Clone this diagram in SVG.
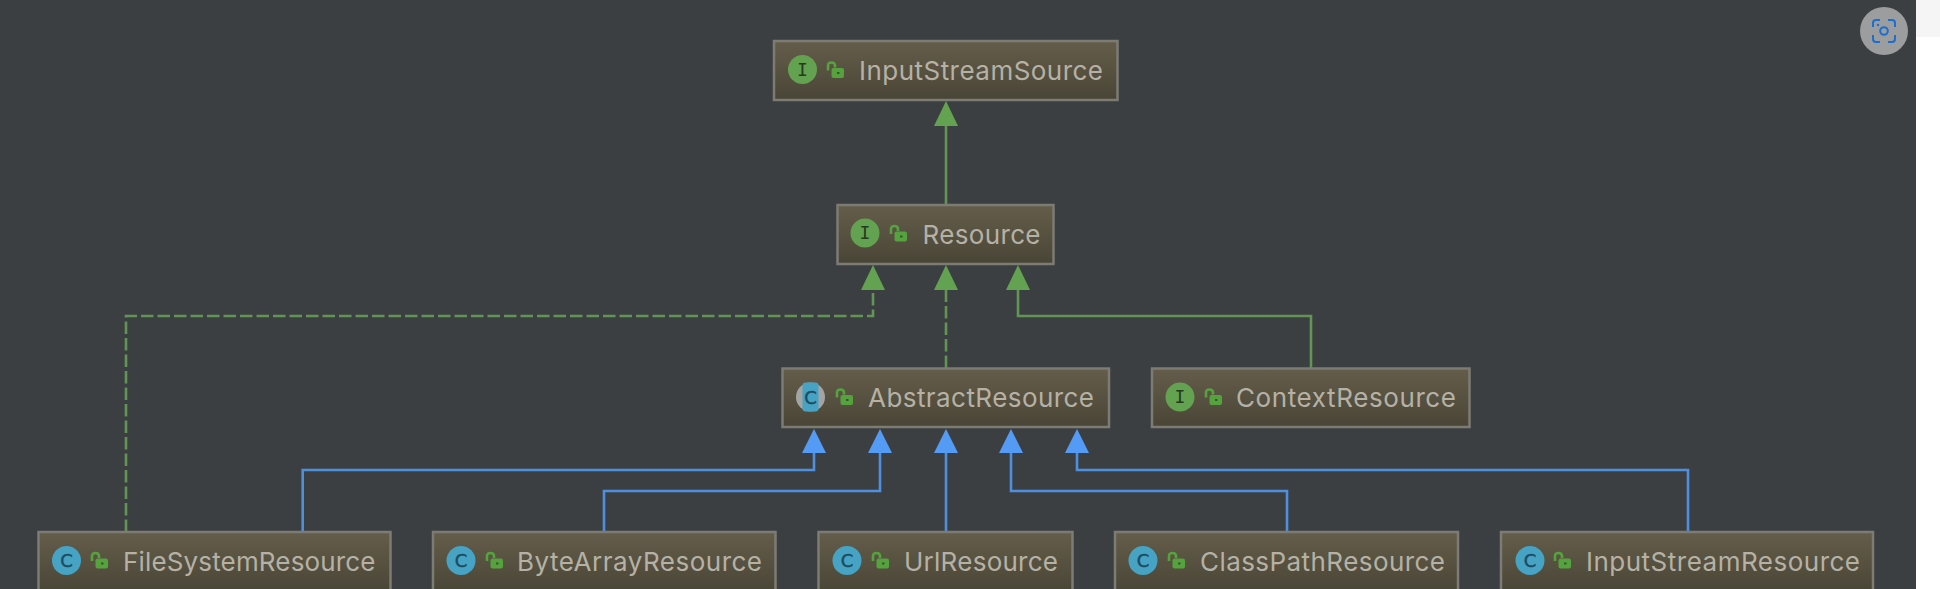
<svg xmlns="http://www.w3.org/2000/svg" width="1940" height="589" viewBox="0 0 1940 589">
<style>
.box{fill:url(#nodeFill);stroke:#7c7b74;stroke-width:2.5}
.lbl{font-family:Inter,"Liberation Sans",Arial,sans-serif;font-size:26px;fill:#b5b1a5}
.ltr{font-family:"DejaVu Sans Mono","Liberation Mono",monospace;font-size:18px;text-anchor:middle}
.c{font-family:"DejaVu Sans","Liberation Sans",sans-serif;font-weight:400;font-size:18px;text-anchor:middle;fill:#1d4b60;stroke:#1d4b60;stroke-width:.4}
.g{fill:none;stroke:#619455;stroke-width:2.6}
.d{stroke-dasharray:12.500 4}
.b{fill:none;stroke:#4f8fe0;stroke-width:2.6}
.ag{fill:#62a250}
.ab{fill:#549bf5}
</style>
<defs>
<linearGradient id="nodeFill" x1="0" y1="0" x2="0" y2="1"><stop offset="0" stop-color="#655d4b"/><stop offset="1" stop-color="#494536"/></linearGradient>
<g id="lock"><path d="M0.500 3V-2Q0.500 -5 4 -5Q7.500 -5 7.500 -2V0" fill="none" stroke="#56a23f" stroke-width="2.600"/><rect x="4" y="0.500" width="12.500" height="10" rx="2" fill="#56a23f"/><rect x="9.500" y="4.500" width="2.500" height="2" fill="#2f5c28"/></g>
<path id="gh" class="ag" d="M0 0L12 25H-12Z"/>
<path id="bh" class="ab" d="M0 0L12 24H-12Z"/>
</defs>
<rect width="1940" height="589" fill="#3c3f41"/>
<rect x="1916" width="24" height="589" fill="#ffffff"/>
<rect x="1916" width="24" height="37" fill="#f5f5f5"/>
<g id="connectors">
<path class="g" d="M946 124V204"/>
<path class="g d" d="M126 532V316H873V288"/>
<path class="g d" d="M946 368V288"/>
<path class="g" d="M1311 368V316H1018V288"/>
<path class="b" d="M302.700 532V470H814V451"/>
<path class="b" d="M604 532V491H880V451"/>
<path class="b" d="M946 532V451"/>
<path class="b" d="M1287 532V491H1011V451"/>
<path class="b" d="M1688 532V470H1077V451"/>
<use href="#gh" x="946" y="101"/>
<use href="#gh" x="873" y="265"/>
<use href="#gh" x="946" y="265"/>
<use href="#gh" x="1018" y="265"/>
<use href="#bh" x="814" y="429"/>
<use href="#bh" x="880" y="429"/>
<use href="#bh" x="946" y="429"/>
<use href="#bh" x="1011" y="429"/>
<use href="#bh" x="1077" y="429"/>
</g>
<g id="InputStreamSource"><rect class="box" x="774" y="41" width="343.500" height="59"/><circle cx="802.500" cy="69.500" r="14.500" fill="#62a250"/><text class="ltr" x="802.500" y="75.500" fill="#253b20">I</text><use href="#lock" x="827.500" y="67.500"/><text class="lbl" x="859" y="80" textLength="244">InputStreamSource</text></g>
<g id="Resource"><rect class="box" x="837.500" y="205" width="216" height="59"/><circle cx="865" cy="233" r="14.500" fill="#62a250"/><text class="ltr" x="865" y="239" fill="#253b20">I</text><use href="#lock" x="890.500" y="231"/><text class="lbl" x="922.500" y="243.500" textLength="118">Resource</text></g>
<g id="AbstractResource"><rect class="box" x="782.500" y="368.500" width="326.500" height="58.500"/><circle cx="810.500" cy="397" r="14.500" fill="#a3a5a5"/><rect x="802.500" y="382.500" width="16" height="29" rx="3" fill="#46a3c4"/><text class="c" x="810.500" y="403.500">C</text><use href="#lock" x="836.500" y="394.500"/><text class="lbl" x="868" y="407" textLength="226">AbstractResource</text></g>
<g id="ContextResource"><rect class="box" x="1152" y="368.500" width="317.500" height="58.500"/><circle cx="1180" cy="397" r="14.500" fill="#62a250"/><text class="ltr" x="1180" y="403" fill="#253b20">I</text><use href="#lock" x="1205.500" y="394.500"/><text class="lbl" x="1236" y="407" textLength="220">ContextResource</text></g>
<g id="FileSystemResource"><rect class="box" x="38.500" y="532" width="352" height="60"/><circle cx="66.500" cy="560.500" r="14.500" fill="#46a3c4"/><text class="c" x="66.500" y="567">C</text><use href="#lock" x="91.500" y="558"/><text class="lbl" x="123" y="570.500" textLength="252.500">FileSystemResource</text></g>
<g id="ByteArrayResource"><rect class="box" x="433" y="532" width="342.500" height="60"/><circle cx="461" cy="560.500" r="14.500" fill="#46a3c4"/><text class="c" x="461" y="567">C</text><use href="#lock" x="486.500" y="558"/><text class="lbl" x="517" y="570.500" textLength="245">ByteArrayResource</text></g>
<g id="UrlResource"><rect class="box" x="818.500" y="532" width="254" height="60"/><circle cx="847" cy="560.500" r="14.500" fill="#46a3c4"/><text class="c" x="847" y="567">C</text><use href="#lock" x="872.500" y="558"/><text class="lbl" x="904" y="570.500" textLength="154">UrlResource</text></g>
<g id="ClassPathResource"><rect class="box" x="1115" y="532" width="343" height="60"/><circle cx="1143" cy="560.500" r="14.500" fill="#46a3c4"/><text class="c" x="1143" y="567">C</text><use href="#lock" x="1168.500" y="558"/><text class="lbl" x="1200" y="570.500" textLength="245">ClassPathResource</text></g>
<g id="InputStreamResource"><rect class="box" x="1501" y="532" width="372" height="60"/><circle cx="1530" cy="560.500" r="14.500" fill="#46a3c4"/><text class="c" x="1530" y="567">C</text><use href="#lock" x="1554.500" y="558"/><text class="lbl" x="1586" y="570.500" textLength="274">InputStreamResource</text></g>
<g id="scan-button"><circle cx="1884" cy="31" r="24" fill="#9b9d9f"/><path d="M1873 27V23Q1873 20 1876 20H1880M1888 20H1892Q1895 20 1895 23V27M1895 35V39Q1895 42 1892 42H1888M1880 42H1876Q1873 42 1873 39V35" fill="none" stroke="#1a6fd0" stroke-width="2"/><circle cx="1884" cy="31" r="3.800" fill="none" stroke="#1a6fd0" stroke-width="2"/><circle cx="1878" cy="25" r="1.200" fill="#1a6fd0"/></g>
</svg>
